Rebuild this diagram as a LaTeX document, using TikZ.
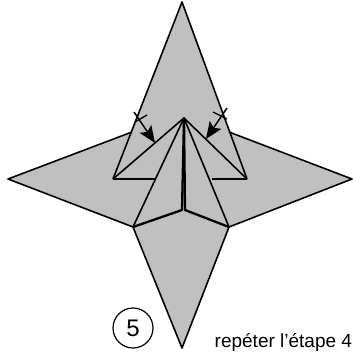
\documentclass[tikz,border=0pt]{standalone}
\usepackage{fontspec}
\setmainfont{Liberation Sans}
\usetikzlibrary{arrows.meta}
\definecolor{paper}{HTML}{C0C0C0}
\tikzset{
  fold/.style={line width=1.6pt,line join=round},
  thick fold/.style={line width=2.3pt,line join=round},
  mover/.style={line width=1.5pt,-{Stealth[length=17pt,width=14pt,inset=3.5pt]}},
  tick/.style={line width=1.3pt}
}
\begin{document}
\begin{tikzpicture}[x=1pt,y=-1pt]
\useasboundingbox (0,0) rectangle (353,351);
\coordinate (top) at (182,2);
\coordinate (right) at (352,179);
\coordinate (left) at (8,179);
\coordinate (bottom) at (182,348);
\coordinate (sl) at (132,132);
\coordinate (sr) at (229,132);
\coordinate (il) at (133,227);
\coordinate (ir) at (229,227);
\coordinate (tl) at (113,179);
\coordinate (tr) at (247,179);
\coordinate (apex) at (184,118);
\coordinate (cl) at (182,210);
\coordinate (cr) at (185,210);
\coordinate (hl) at (155,179);
\coordinate (hr) at (212,179);
\fill[paper] (top) -- (sr) -- (right) -- (ir) -- (bottom) -- (il) -- (left) -- (sl) -- cycle;
\draw[fold] (tl) -- (top) -- (tr);
\draw[fold] (sl) -- (left) -- (il) -- (bottom) -- (ir) -- (right) -- (sr);
\draw[fold] (tl) -- (apex) -- (tr);
\draw[fold] (tl) -- (hl);
\draw[fold] (hr) -- (tr);
\draw[fold] (il) -- (apex) -- (ir);
\draw[thick fold] (il) -- (cl) -- (apex);
\draw[thick fold] (ir) -- (cr) -- (apex);
\coordinate (a1s) at (134,112); \coordinate (a1e) at (155,143);
\coordinate (a2s) at (227,108); \coordinate (a2e) at (206,139);
\coordinate (t1s) at (135,122); \coordinate (t1e) at (147,115);
\coordinate (t2s) at (213,112); \coordinate (t2e) at (227,119);
\draw[mover] (a1s) -- (a1e);
\draw[mover] (a2s) -- (a2e);
\draw[tick] (t1s) -- (t1e);
\draw[tick] (t2s) -- (t2e);
\node[draw,circle,line width=1.2pt,minimum size=40pt,inner sep=0pt,font=\fontsize{24}{24}\selectfont] (step5) at (133,328) {5};
\node[anchor=base west,inner sep=0pt,font=\fontsize{19}{20}\selectfont] (note) at (214.5,347.5) {repéter l'étape 4};
\end{tikzpicture}
\end{document}
